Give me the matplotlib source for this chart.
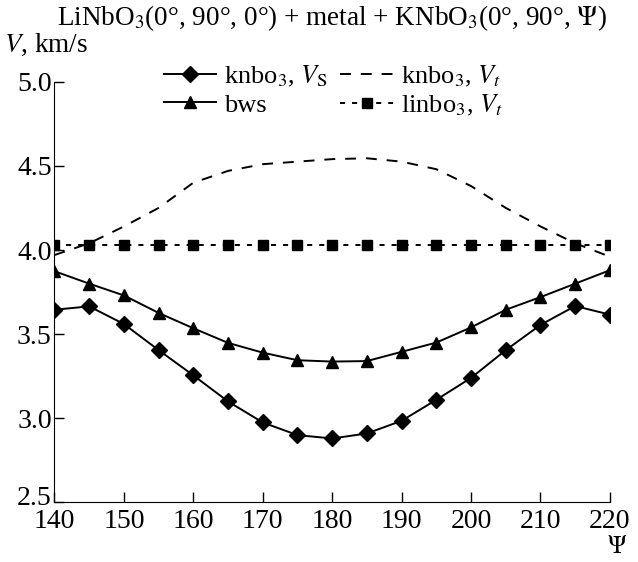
import numpy as np
import matplotlib.pyplot as plt
import matplotlib.transforms as mtransforms

plt.rcParams['font.family'] = ['Liberation Serif', 'DejaVu Serif']
plt.rcParams['mathtext.fontset'] = 'stix'
plt.rcParams['font.size'] = 19

# Angulo de corte Psi
psi = [140, 145, 150, 155, 160, 165, 170, 175, 180, 185, 190, 195, 200, 205, 210, 215, 220]

# Velocidades em km/s
knbo3_vs = [3.645, 3.665, 3.56, 3.405, 3.255, 3.10, 2.975, 2.90, 2.88, 2.91, 2.985,
            3.11, 3.24, 3.405, 3.555, 3.667, 3.616]
bws = [3.874, 3.80, 3.73, 3.626, 3.535, 3.448, 3.39, 3.345, 3.337, 3.34, 3.395,
       3.45, 3.54, 3.645, 3.72, 3.80, 3.88]
knbo3_vt = [3.97, 4.04, 4.14, 4.25, 4.40, 4.47, 4.51, 4.525, 4.54, 4.545, 4.525,
            4.48, 4.38, 4.25, 4.14, 4.04, 3.96]
linbo3_vt = [4.03] * 17

fig = plt.figure(figsize=(6.38, 5.62), dpi=100)
ax = fig.add_axes([0.0854, 0.106, 0.8706, 0.7486])

ax.plot(psi, knbo3_vs, color='k', lw=1.4, marker='D', ms=8.5, label=r'knbo$_3$, $V_\mathrm{S}$')
ax.plot(psi, knbo3_vt, color='k', lw=1.4, ls=(0, (5.6, 5.1)), label=r'knbo$_3$, $V_t$')
ax.plot(psi, bws, color='k', lw=1.4, marker='^', ms=9, label='bws')
ax.plot(psi, linbo3_vt, color='k', lw=1.4, ls=(0, (2.6, 3.6)), marker='s', ms=7,
        label=r'linbo$_3$, $V_t$')

ax.set_xlim(140, 220)
ax.set_ylim(2.5, 5.0)
ax.set_xticks(np.arange(140, 221, 10))
ax.set_yticks([2.5, 3.0, 3.5, 4.0, 4.5, 5.0])
ax.set_yticklabels(['2.5', '3.0', '3.5', '4.0', '4.5', '5.0'])
ax.tick_params(direction='in', length=7, width=1, labelsize=20)
ax.tick_params(axis='x', pad=5)
ax.tick_params(axis='y', pad=2)
ax.spines['top'].set_visible(False)
ax.spines['right'].set_visible(False)

# sobe um pouco o rotulo 2.5 para nao encostar no 140
fig.canvas.draw()
lbl = ax.get_yticklabels()[0]
lbl.set_transform(lbl.get_transform() + mtransforms.ScaledTranslation(0, 7 / 100, fig.dpi_scale_trans))

h, l = ax.get_legend_handles_labels()
fig.legend([h[0], h[2], h[1], h[3]], [l[0], l[2], l[1], l[3]], ncol=2, frameon=False,
           loc='upper left', bbox_to_anchor=(0.24, 0.905), handlelength=2.0,
           handletextpad=0.3, columnspacing=0.45, labelspacing=0.15, borderaxespad=0)

fig.text(0.52, 0.968, r'LiNbO$_3$(0°, 90°, 0°) + metal + KNbO$_3$(0°, 90°, $\Psi$)',
         ha='center', va='center', fontsize=19.5)
fig.text(0.006, 0.92, r'$V$, km/s', ha='left', va='center', fontsize=19.5)
fig.text(0.967, 0.026, r'$\mathrm{\Psi}$', ha='center', va='center', fontsize=18)

plt.savefig('out.png')
